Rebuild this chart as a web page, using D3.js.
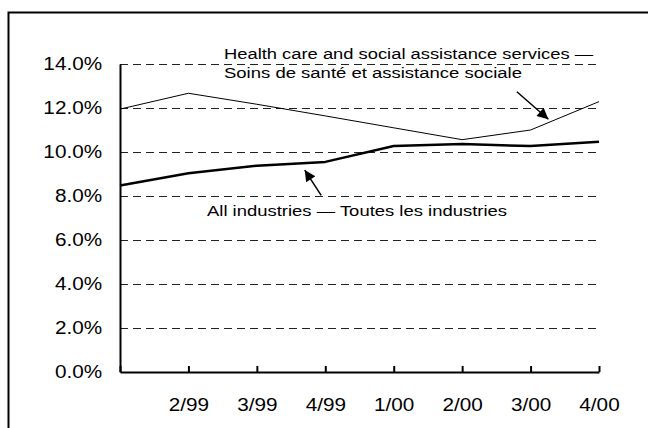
<!DOCTYPE html>
<html>
<head>
<meta charset="utf-8">
<script src="https://cdn.jsdelivr.net/npm/d3@7/dist/d3.min.js"></script>
<style>
  html, body { margin: 0; padding: 0; background: #fff; }
  svg { display: block; }
  text { font-family: "Liberation Sans", Arial, sans-serif; fill: #000; }
</style>
</head>
<body>
<svg id="chart" width="648" height="428"></svg>
<script>
// ---- data ----
const categories = ["1/99", "2/99", "3/99", "4/99", "1/00", "2/00", "3/00", "4/00"];
const tickLabels = ["", "2/99", "3/99", "4/99", "1/00", "2/00", "3/00", "4/00"];
const healthValues = [11.95, 12.67, 12.17, 11.64, 11.1, 10.56, 11.0, 12.29];
const allIndustriesValues = [8.48, 9.03, 9.38, 9.55, 10.27, 10.36, 10.27, 10.47];
const yTicks = [0, 2, 4, 6, 8, 10, 12, 14];
const healthLabel = ["Health care and social assistance services \u2014", "Soins de sant\u00e9 et assistance sociale"];
const allLabel = "All industries \u2014 Toutes les industries";

// ---- layout ----
const svg = d3.select("#chart");
const plotLeft = 120, plotRight = 599, plotTop = 64, plotBottom = 372;

svg.append("rect")
  .attr("x", 8.5).attr("y", 12.5).attr("width", 700).attr("height", 500)
  .attr("fill", "none").attr("stroke", "#000").attr("stroke-width", 2);

const x = d3.scalePoint().domain(categories).range([plotLeft, plotRight]);
const xi = d3.scaleLinear().domain([0, categories.length - 1]).range([plotLeft, plotRight]);
const y = d3.scaleLinear().domain([0, 14]).range([plotBottom, plotTop]);

// gridlines
svg.append("g").selectAll("line")
  .data(yTicks.filter(d => d > 0))
  .join("line")
  .attr("x1", plotLeft).attr("x2", plotRight)
  .attr("y1", d => y(d) + 0.5).attr("y2", d => y(d) + 0.5)
  .attr("stroke", "#222").attr("stroke-width", 1)
  .attr("shape-rendering", "crispEdges")
  .attr("stroke-dasharray", "8,5");

// y axis
const yAxis = svg.append("g")
  .attr("transform", `translate(${plotLeft},0)`)
  .call(d3.axisLeft(y).tickValues(yTicks).tickSize(0).tickPadding(16)
    .tickFormat(d => d.toFixed(1) + "%"));
yAxis.select(".domain").attr("stroke", "#000").attr("stroke-width", 2);
yAxis.selectAll("text")
  .attr("font-size", "18.5px")
  .attr("font-family", "Liberation Sans, Arial, sans-serif")
  .attr("transform", "scale(1.12,1)");

// x axis
const xAxis = svg.append("g")
  .attr("transform", `translate(0,${plotBottom})`)
  .call(d3.axisBottom(x).tickSizeInner(-6).tickSizeOuter(0).tickPadding(26)
    .tickFormat((d, i) => tickLabels[i]));
xAxis.select(".domain").attr("stroke", "#000").attr("stroke-width", 2);
xAxis.selectAll(".tick line").attr("stroke", "#000").attr("stroke-width", 2);
xAxis.selectAll(".tick text")
  .attr("font-size", "18.5px")
  .attr("font-family", "Liberation Sans, Arial, sans-serif")
  .attr("transform", "scale(1.12,1)");

// lines
const line = d3.line().x((d, i) => x(categories[i])).y(d => y(d));
svg.append("path").datum(healthValues)
  .attr("d", line).attr("fill", "none").attr("stroke", "#000").attr("stroke-width", 1);
svg.append("path").datum(allIndustriesValues)
  .attr("d", line).attr("fill", "none").attr("stroke", "#000").attr("stroke-width", 2.5)
  .attr("stroke-linejoin", "round");

// arrow marker
svg.append("defs").append("marker")
  .attr("id", "ah").attr("viewBox", "0 0 10 10")
  .attr("refX", 10).attr("refY", 5)
  .attr("markerWidth", 14).attr("markerHeight", 11)
  .attr("markerUnits", "userSpaceOnUse")
  .attr("orient", "auto")
  .append("path").attr("d", "M0,0 L10,5 L0,10 Z").attr("fill", "#000");

// annotations (in data coordinates: category index, value)
const arrows = [
  { from: [5.80, 12.74], to: [6.26, 11.49] },
  { from: [2.94, 8.03], to: [2.70, 9.18] }
];
svg.append("g").selectAll("line")
  .data(arrows).join("line")
  .attr("x1", d => xi(d.from[0])).attr("y1", d => y(d.from[1]))
  .attr("x2", d => xi(d.to[0])).attr("y2", d => y(d.to[1]))
  .attr("stroke", "#000").attr("stroke-width", 1.5)
  .attr("marker-end", "url(#ah)");

svg.append("text").attr("x", 224).attr("y", 58.5)
  .attr("font-size", "15.5px")
  .attr("textLength", 369).attr("lengthAdjust", "spacingAndGlyphs")
  .text(healthLabel[0]);
svg.append("text").attr("x", 224).attr("y", 77.5)
  .attr("font-size", "15.5px")
  .attr("textLength", 298).attr("lengthAdjust", "spacingAndGlyphs")
  .text(healthLabel[1]);
svg.append("text").attr("x", 207).attr("y", 216)
  .attr("font-size", "15.5px")
  .attr("textLength", 300).attr("lengthAdjust", "spacingAndGlyphs")
  .text(allLabel);
</script>
</body>
</html>
